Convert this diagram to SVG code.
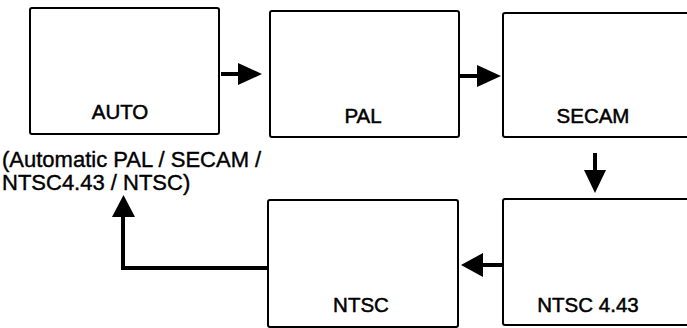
<svg xmlns="http://www.w3.org/2000/svg" width="687" height="328" viewBox="0 0 687 328">
<defs>
<style>
.box{fill:#fff;stroke:#000;stroke-width:2}
.lbl{font-family:"Liberation Sans",Arial,sans-serif;font-size:20.5px;fill:#000;text-anchor:middle;stroke:#000;stroke-width:0.5}
.cap{font-family:"Liberation Sans",Arial,sans-serif;font-size:22px;fill:#000;stroke:#000;stroke-width:0.4}
.ln{fill:none;stroke:#000;stroke-width:4}
.head{fill:#000}
</style>
</defs>
<rect width="687" height="328" fill="#fff"/>
<g id="auto">
<rect class="box" x="30" y="8" width="189" height="126" rx="2"/>
<text class="lbl" x="120" y="119">AUTO</text>
</g>
<g id="pal">
<rect class="box" x="270" y="11" width="189" height="126" rx="2"/>
<text class="lbl" x="363" y="123">PAL</text>
</g>
<g id="secam">
<rect class="box" x="503" y="13" width="200" height="124" rx="2"/>
<text class="lbl" x="593" y="123">SECAM</text>
</g>
<g id="ntsc443">
<rect class="box" x="503" y="199" width="200" height="126" rx="2"/>
<text class="lbl" x="588" y="312">NTSC 4.43</text>
</g>
<g id="ntsc">
<rect class="box" x="268" y="200" width="190" height="127" rx="2"/>
<text class="lbl" x="361" y="312">NTSC</text>
</g>
<g id="caption">
<text class="cap" x="2" y="167">(Automatic PAL / SECAM /</text>
<text class="cap" x="2" y="190">NTSC4.43 / NTSC)</text>
</g>
<g id="connectors">
<line class="ln" x1="221" y1="74" x2="240" y2="74"/>
<polygon class="head" points="238,63 262,74 238,85"/>
<line class="ln" x1="460" y1="76" x2="479" y2="76"/>
<polygon class="head" points="477,65 501,76 477,87"/>
<line class="ln" x1="595" y1="153" x2="595" y2="172"/>
<polygon class="head" points="584,170 606,170 595,193"/>
<line class="ln" x1="503" y1="265" x2="481" y2="265"/>
<polygon class="head" points="483,253 483,277 461,265"/>
<polyline class="ln" points="268,268 123,268 123,215"/>
<polygon class="head" points="112,217 135,217 123.5,195"/>
</g>
</svg>
